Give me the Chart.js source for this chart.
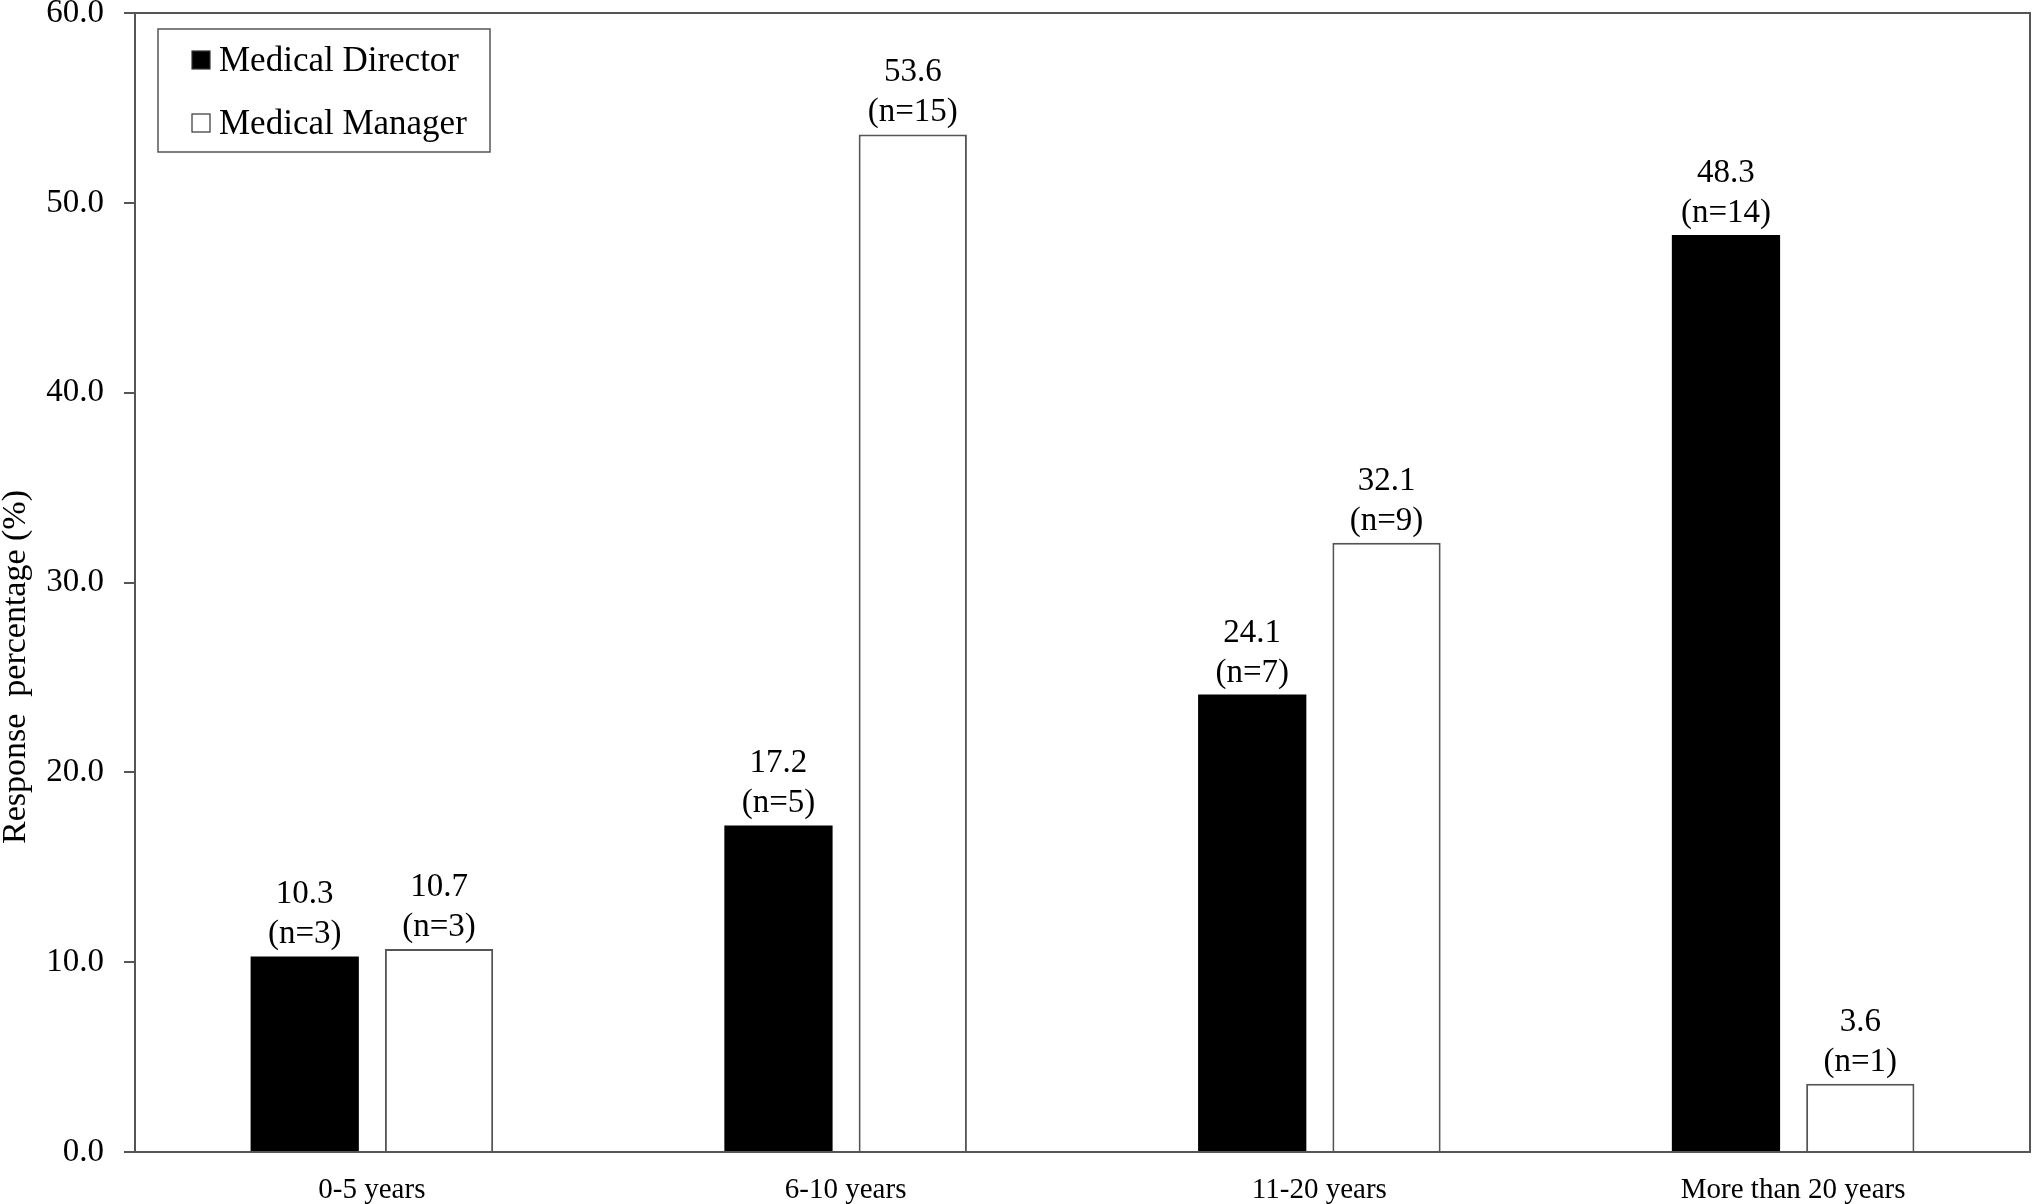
<!DOCTYPE html>
<html>
<head>
<meta charset="utf-8">
<script src="https://cdn.jsdelivr.net/npm/chart.js@4"></script>
<style>
  html, body { margin: 0; padding: 0; background: #fff; }
  #wrap { width: 2032px; height: 1204px; }
</style>
</head>
<body>
<div id="wrap"><canvas id="experienceChart"></canvas></div>
<script>
const categories = ['0-5 years', '6-10 years', '11-20 years', 'More than 20 years'];
const directorPct = [10.3, 17.2, 24.1, 48.3];
const managerPct = [10.7, 53.6, 32.1, 3.6];
const directorN = [3, 5, 7, 14];
const managerN = [3, 15, 9, 1];
const yTicks = [0, 10, 20, 30, 40, 50, 60];

const FONT = "'Liberation Serif', 'Times New Roman', serif";
const AXIS = '#555';

// labels above bars, legend box, frame and y title
const extras = {
    id: 'extras',
    afterDatasetsDraw(chart) {
        const ctx = chart.ctx;
        const nLists = [directorN, managerN];
        ctx.save();
        ctx.fillStyle = '#000';
        ctx.textAlign = 'center';
        ctx.textBaseline = 'alphabetic';
        ctx.font = '33px ' + FONT;
        chart.data.datasets.forEach((ds, i) => {
            chart.getDatasetMeta(i).data.forEach((bar, j) => {
                ctx.fillText(ds.data[j].toFixed(1), bar.x, bar.y - 53);
                ctx.fillText('(n=' + nLists[i][j] + ')', bar.x, bar.y - 13);
            });
        });
        ctx.restore();
    },
    afterDraw(chart) {
        const ctx = chart.ctx;
        const a = chart.chartArea;
        ctx.save();
        // frame top/right
        ctx.strokeStyle = AXIS;
        ctx.lineWidth = 2;
        ctx.beginPath();
        ctx.moveTo(a.left, a.top);
        ctx.lineTo(a.right, a.top);
        ctx.lineTo(a.right, a.bottom);
        ctx.stroke();

        // legend
        const lx = a.left + 23, ly = a.top + 16;
        ctx.lineWidth = 1.5;
        ctx.strokeRect(lx, ly, 332, 123);
        ctx.font = '35px ' + FONT;
        ctx.textAlign = 'left';
        ctx.textBaseline = 'alphabetic';
        chart.data.datasets.forEach((ds, i) => {
            const rowY = ly + 22 + i * 63;
            ctx.fillStyle = ds.backgroundColor;
            ctx.fillRect(lx + 34, rowY, 18, 18);
            ctx.strokeStyle = '#333';
            ctx.lineWidth = 1.2;
            ctx.strokeRect(lx + 34, rowY, 18, 18);
            ctx.fillStyle = '#000';
            ctx.fillText(ds.label, lx + 61, rowY + 20);
        });

        // y axis title
        ctx.translate(16, 667);
        ctx.rotate(-Math.PI / 2);
        ctx.textAlign = 'center';
        ctx.textBaseline = 'middle';
        ctx.font = '34px ' + FONT;
        ctx.fillText('Response  percentage (%)', 0, 0);
        ctx.restore();
    }
};

const ctx = document.getElementById('experienceChart').getContext('2d');
new Chart(ctx, {
    type: 'bar',
    data: {
        labels: categories,
        datasets: [{
            label: 'Medical Director',
            data: directorPct,
            backgroundColor: '#000000',
            borderColor: '#000000',
            borderWidth: 0
        }, {
            label: 'Medical Manager',
            data: managerPct,
            backgroundColor: '#ffffff',
            borderColor: '#555555',
            borderWidth: 2
        }]
    },
    options: {
        responsive: true,
        maintainAspectRatio: false,
        animation: false,
        layout: { padding: { top: 13, right: 2, left: 0, bottom: 0 } },
        datasets: { bar: { categoryPercentage: 0.567, barPercentage: 0.806 } },
        plugins: {
            legend: { display: false },
            tooltip: { enabled: false }
        },
        scales: {
            x: {
                grid: { display: false, drawTicks: false },
                border: { display: true, color: AXIS, width: 2 },
                ticks: { color: '#000', font: { family: FONT, size: 29 }, padding: 21, maxRotation: 0 },
                afterFit(scale) {
                    scale.height = 52;
                    scale.paddingLeft = 0;
                    scale.paddingRight = 0;
                }
            },
            y: {
                min: 0,
                max: 60,
                afterBuildTicks(scale) { scale.ticks = yTicks.map(v => ({ value: v })); },
                grid: { drawOnChartArea: false, drawTicks: true, tickLength: 11, color: AXIS, lineWidth: 2 },
                border: { display: true, color: AXIS, width: 2 },
                ticks: {
                    color: '#000',
                    font: { family: FONT, size: 33 },
                    padding: 20,
                    callback: v => Number(v).toFixed(1)
                },
                afterFit(scale) {
                    scale.width = 135;
                    scale.paddingTop = 0;
                    scale.paddingBottom = 0;
                }
            }
        }
    },
    plugins: [extras]
});
</script>
</body>
</html>
